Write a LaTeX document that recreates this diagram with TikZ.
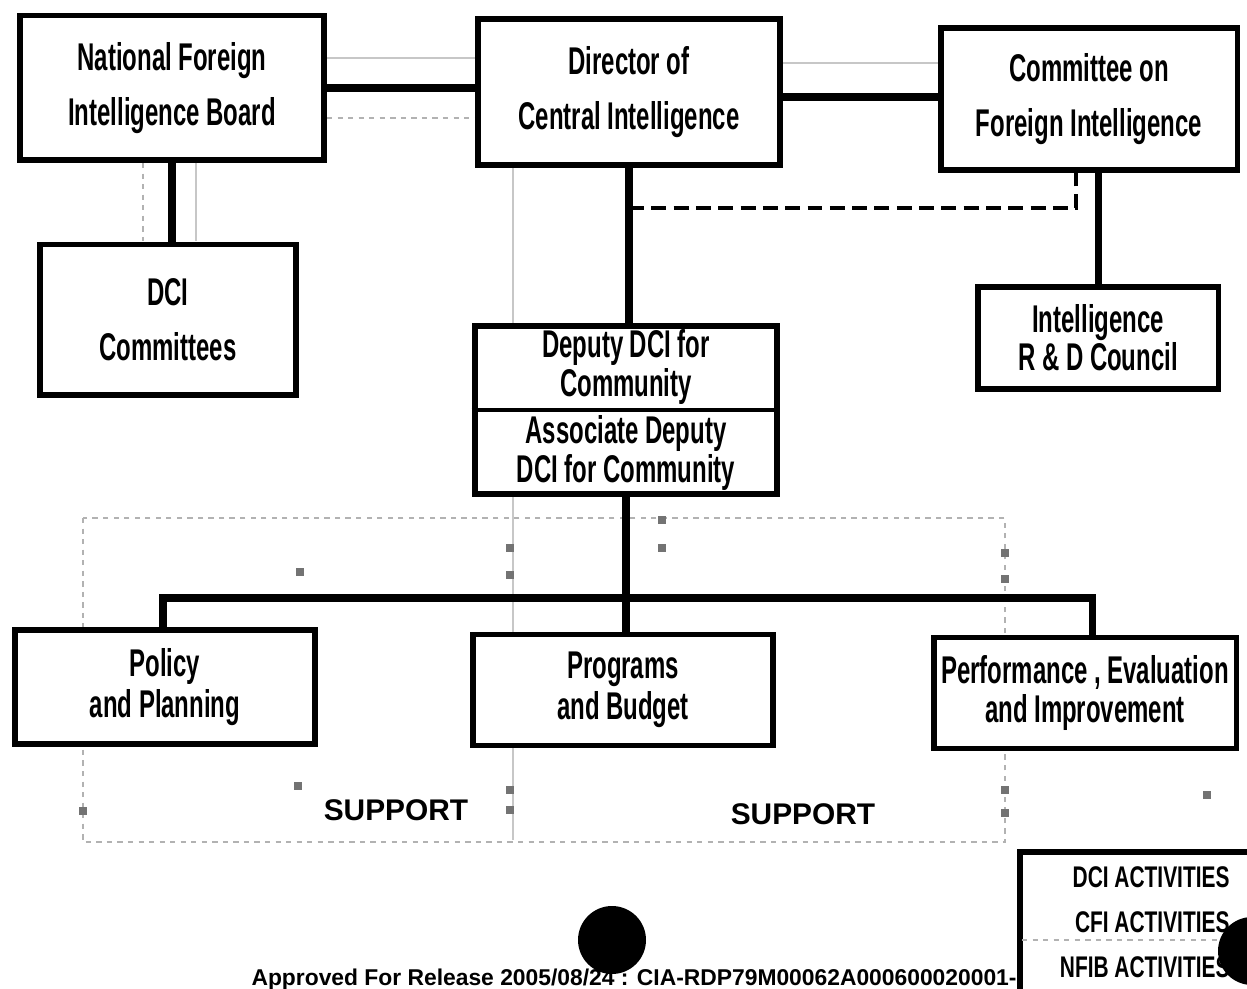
\documentclass[tikz,border=0pt]{standalone}
\usepackage{fontspec}
\setmainfont{Liberation Sans}
\newfontfamily\boxfont{Liberation Sans}[FakeStretch=0.62]
\newfontfamily\keyfont{Liberation Sans}[FakeStretch=0.7]

\begin{document}
\begin{tikzpicture}[x=0.02cm,y=-0.02cm,
					line width=4pt,
					org box/.style={rectangle,draw,fill=white,line width=3.4pt,inner sep=1pt,align=center,
						font=\boxfont\bfseries\fontsize{22}{22}\selectfont},
					key text/.style={anchor=east,inner sep=0pt,font=\keyfont\bfseries\fontsize{17}{17}\selectfont},
					support/.style={inner sep=0pt,font=\bfseries\fontsize{17}{17}\selectfont},
					faint/.style={draw=black!22,line width=1.6pt},
					faint dots/.style={draw=black!30,line width=0.8pt,dash pattern=on 3pt off 3pt},
					speck/.style={fill=black!55}]

  \clip (0,0) rectangle (1247,989);
  \fill[white] (0,0) rectangle (1247,989);

  % faint lines of the scan
  \draw[faint] (327,58) -- (475,58);
  \draw[faint dots] (327,118) -- (475,118);
  \draw[faint] (783,63) -- (938,63);
  \draw[faint dots] (143,163) -- (143,241);
  \draw[faint] (196,163) -- (196,241);
  \draw[faint] (513,168) -- (513,840);
  \draw[faint dots] (83,518) rectangle (1005,842);
  \foreach \mx/\my in {300/572, 510/548, 510/575, 662/520, 662/548, 1005/553, 1005/579,
                       298/786, 83/811, 510/790, 510/810, 1005/790, 1005/813, 1207/795}
    \fill[speck] (\mx-4,\my-4) rectangle +(8,8);

  % boxes
  \node[org box,minimum width=6.08cm,minimum height=2.9cm] (nfib) at (172,88)
    {National Foreign\\[9.2pt]Intelligence Board};
  \node[org box,minimum width=6.04cm,minimum height=2.92cm] (dci) at (629,92)
    {Director of\\[9.2pt]Central Intelligence};
  \node[org box,minimum width=5.94cm,minimum height=2.84cm] (cfi) at (1089,99)
    {Committee on\\[9.2pt]Foreign Intelligence};
  \node[org box,minimum width=5.12cm,minimum height=3.02cm] (com) at (168,320)
    {DCI\\[9.2pt]Committees};
  \node[org box,minimum width=4.82cm,minimum height=2.04cm] (rd) at (1098,338)
    {Intelligence\\[-0.5pt]R \& D Council};
  \node[org box,minimum width=6.06cm,minimum height=3.36cm] (dep) at (626,410)
    {Deputy DCI for\\[0pt]Community\\[5pt]Associate Deputy\\[0pt]DCI for Community};
  \draw[line width=1.8pt] (dep.west) -- (dep.east);
  \node[org box,minimum width=6.0cm,minimum height=2.28cm] (pol) at (165,687)
    {Policy\\[1.8pt]and Planning};
  \node[org box,minimum width=6.02cm,minimum height=2.22cm] (prog) at (623,690)
    {Programs\\[1.3pt]and Budget};
  \node[org box,minimum width=6.06cm,minimum height=2.22cm] (perf) at (1085,693)
    {Performance , Evaluation\\[0.7pt]and Improvement};

  \node[support] (sup1) at (396,810) {SUPPORT};
  \node[support] (sup2) at (803,814) {SUPPORT};

  % connectors
  \draw (nfib.east) -- (nfib.east -| dci.west);
  \draw (cfi.west |- 0,97) -- (dci.east |- 0,97);
  \draw (nfib.south) -- (nfib.south |- com.north);
  \draw (dci.south) -- (dci.south |- dep.north);
  \draw (rd.north) -- (rd.north |- cfi.south);
  \coordinate (dashturn) at (1076,208);
  \draw[line width=2.8pt,dash pattern=on 8.5pt off 4.2pt] (dci.south |- dashturn) -- (dashturn) -- (dashturn |- cfi.south);
  \coordinate (bus) at (627,598);
  \draw (dep.south) -- (dep.south |- prog.north);
  \draw ([xshift=-0.04cm]pol.north) |- (bus) -| ([xshift=0.14cm]perf.north);

  % release line and key
  \node[anchor=base west,inner sep=0pt,font=\bfseries\fontsize{13}{13}\selectfont] (release) at (248,985)
    {Approved For Release 2005/08/24 : CIA-RDP79M00062A000600020001-2};
  \draw[line width=3.4pt,fill=white] (1020,852) rectangle (1280,1020);
  \node[key text] (dcikey) at (1233,877) {DCI ACTIVITIES};
  \node[key text] (cfikey) at (1233,922) {CFI ACTIVITIES};
  \node[key text] (nfibkey) at (1233,967) {NFIB ACTIVITIES};
  \draw[faint dots] (1022,940) -- (1247,940);

  % punch holes
  \fill (612,940) circle[radius=0.68cm];
  \fill (1252,951) circle[radius=0.68cm];
\end{tikzpicture}
\end{document}
